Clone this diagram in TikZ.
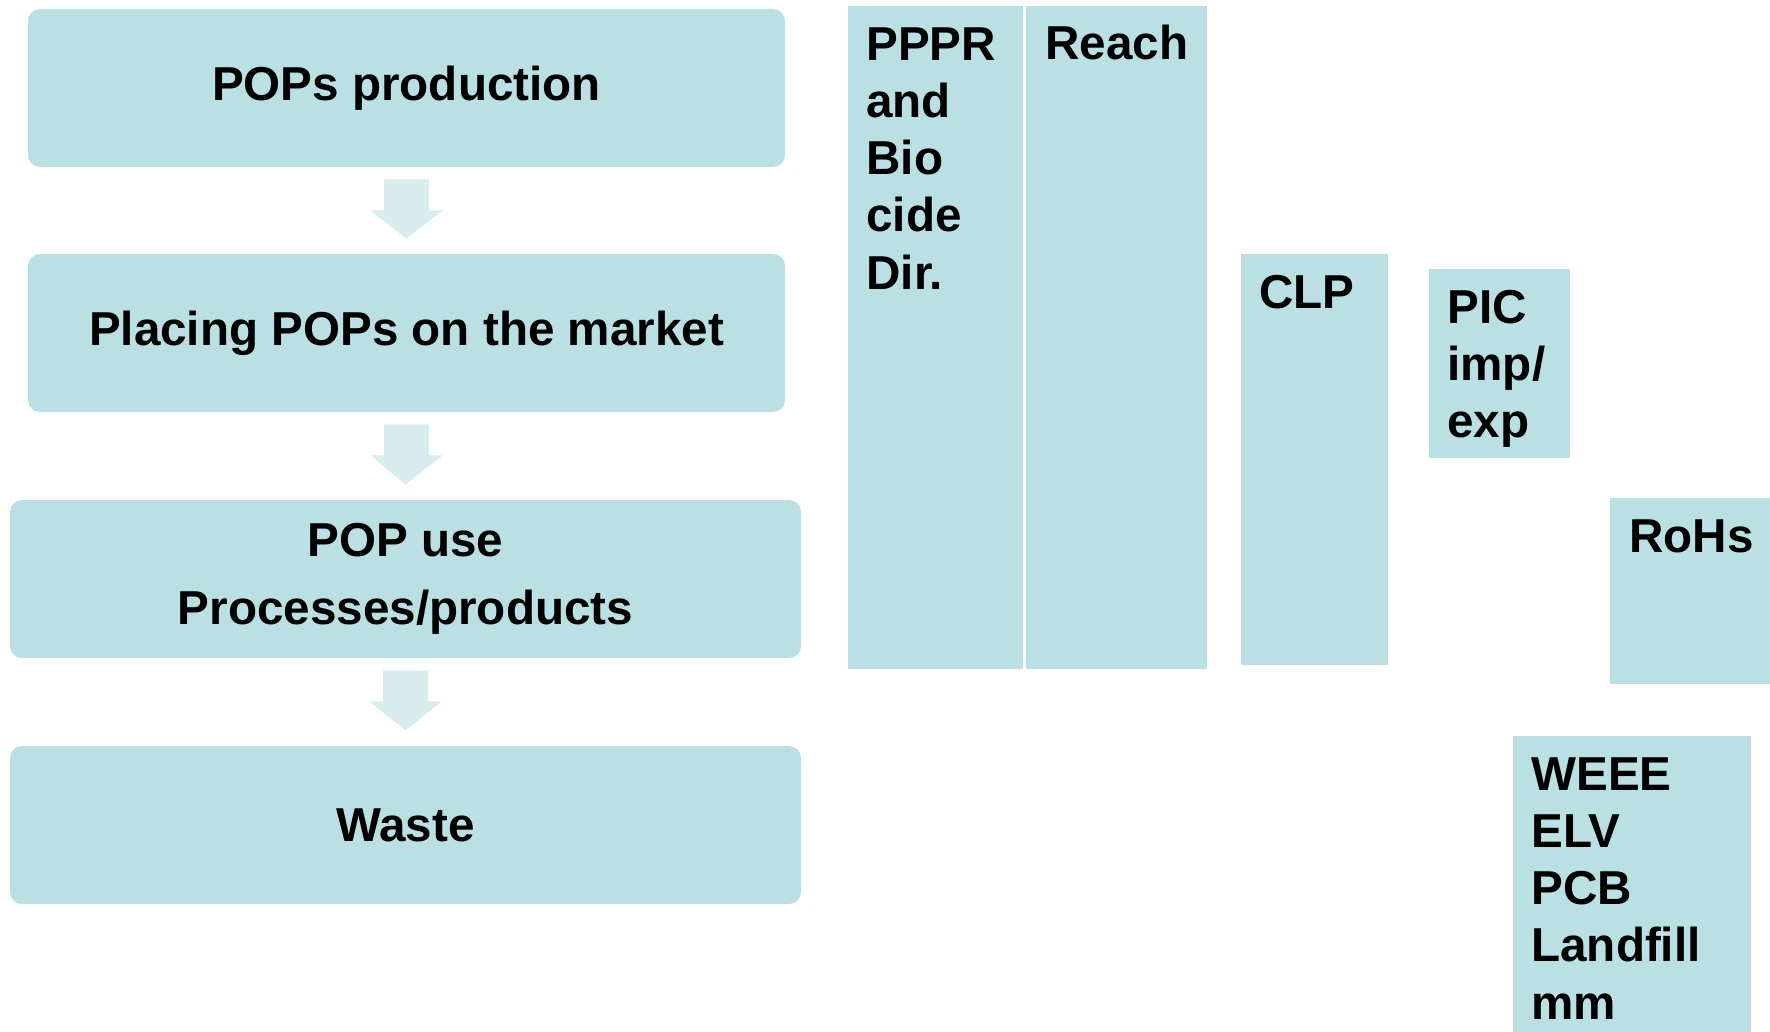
\documentclass[tikz,border=0pt]{standalone}
\usepackage{fontspec}
\setmainfont{Liberation Sans}
\usetikzlibrary{calc}
\definecolor{boxc}{RGB}{186,224,227}
\definecolor{arrc}{RGB}{217,236,238}
\begin{document}
\begin{tikzpicture}[x=0.5pt,y=-0.5pt,
  stage/.style={fill=boxc, rounded corners=6pt, inner sep=0pt, align=center,
    font=\bfseries\fontsize{23.8pt}{34pt}\selectfont},
  law/.style={fill=boxc, inner sep=0pt, anchor=north west},
  lawtext/.style={anchor=base west, inner sep=0pt, align=left,
    font=\bfseries\fontsize{23.8pt}{28.65pt}\selectfont},
  flow/.style={fill=arrc}]
\useasboundingbox (0,0) rectangle (1770,1032);
% process stages
\node[stage, minimum width=378.5pt, minimum height=79pt] (s1) at (406.5,88) {POPs production};
\node[stage, minimum width=378.5pt, minimum height=79pt] (s2) at (406.5,333) {Placing POPs on the market};
\node[stage, minimum width=395.5pt, minimum height=79pt] (s3) at (405.5,579) {POP use\\Processes/products};
\node[stage, minimum width=395.5pt, minimum height=79pt] (s4) at (405.5,825) {Waste};
% block arrows
\foreach \a/\b in {s1/s2,s2/s3,s3/s4}{
  \fill[flow] ($(\a.south)+(-22.5,12)$) -- ($(\a.south)+(22.5,12)$) -- ($(\a.south)+(22.5,43)$)
    -- ($(\a.south)+(36,43)$) -- ($(\b.north)+(0,-15)$) -- ($(\a.south)+(-36,43)$)
    -- ($(\a.south)+(-22.5,43)$) -- cycle;
}
% legislation boxes (text anchored at the baseline of its last line)
\node[law, minimum width=87.5pt, minimum height=331.5pt] (pppr) at (848,6) {};
\node[lawtext] (pppr-t) at ($(pppr.north west)+(18,283.2)$) {PPPR\\and\\Bio\\cide\\Dir.};
\node[law, minimum width=90.5pt, minimum height=331.5pt] (reach) at (1026,6) {};
\node[lawtext] (reach-t) at ($(reach.north west)+(19,54)$) {Reach};
\node[law, minimum width=73.5pt, minimum height=205.5pt] (clp) at (1241,254) {};
\node[lawtext] (clp-t) at ($(clp.north west)+(18,54)$) {CLP};
\node[law, minimum width=70.5pt, minimum height=94.5pt] (pic) at (1429,269) {};
\node[lawtext] (pic-t) at ($(pic.north west)+(18,168.6)$) {PIC\\imp/\\exp};
\node[law, minimum width=80pt, minimum height=93pt] (rohs) at (1610,498) {};
\node[lawtext] (rohs-t) at ($(rohs.north west)+(19,54)$) {RoHs};
\node[law, minimum width=119pt, minimum height=148pt] (weee) at (1513,736) {};
\node[lawtext] (weee-t) at ($(weee.north west)+(18,283.2)$) {WEEE\\ELV\\PCB\\Landfill\\mm};
\end{tikzpicture}
\end{document}
